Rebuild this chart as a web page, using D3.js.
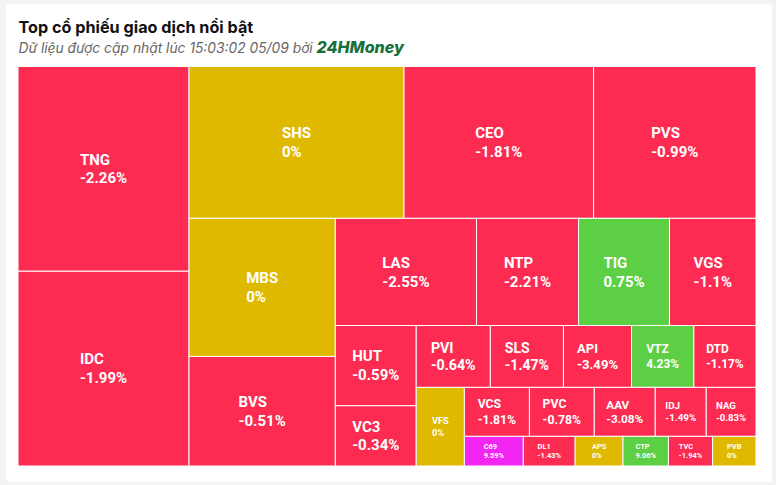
<!DOCTYPE html>
<html><head><meta charset="utf-8">
<script src="https://cdn.jsdelivr.net/npm/d3@7"></script>
<style>
html,body{margin:0;padding:0;background:#f2f3f5;}
svg{display:block;}
</style></head><body>
<svg id="chart" width="776" height="485"></svg>
<script>
// ---- data ----
const symbols = ["TNG","IDC","SHS","CEO","PVS","MBS","BVS","LAS","NTP","TIG","VGS","HUT","VC3","PVI","SLS","API","VTZ","DTD","VFS","VCS","PVC","AAV","IDJ","NAG","C69","DL1","APS","CTP","TVC","PVB"];
const values  = [350.6,333.5,326.8,288.2,246.9,202.3,160.5,151.5,109.5,97.6,92.8,65.0,48.8,45.9,45.3,42.2,38.6,38.5,37.9,31.9,31.8,29.9,25.0,24.4,17.5,15.4,14.2,13.5,13.1,12.9];
const changes = [-2.26,-1.99,0,-1.81,-0.99,0,-0.51,-2.55,-2.21,0.75,-1.1,-0.59,-0.34,-0.64,-1.47,-3.49,4.23,-1.17,0,-1.81,-0.78,-3.08,-1.49,-0.83,9.59,-1.43,0,9.06,-1.94,0];
const ceilingSymbols = ["C69"];
const titleText = "Top cổ phiếu giao dịch nổi bật";
const subtitleText = "Dữ liệu được cập nhật lúc 15:03:02 05/09 bởi";
const brandText = "24HMoney";

const colors = {down:"#fd2b51", ref:"#dfb900", up:"#5ccf45", ceil:"#f325f3"};
const statusOf = (s, c) => ceilingSymbols.includes(s) ? "ceil" : c > 0 ? "up" : c < 0 ? "down" : "ref";

const svg = d3.select("#chart");
// card
svg.append("rect").attr("x",6).attr("y",4).attr("width",766).attr("height",478)
  .attr("rx",4).attr("fill","#fff");

// title
svg.append("text").attr("x",18.5).attr("y",33)
  .attr("font-family","Inter, 'Noto Sans', sans-serif").attr("font-weight",700)
  .attr("font-size",16.2).attr("fill","#111").text(titleText);
const sub = svg.append("text").attr("x",18.5).attr("y",53)
  .attr("font-family","Inter, 'Noto Sans', sans-serif").attr("font-style","italic")
  .attr("font-size",13.8).attr("fill","#666");
sub.append("tspan").text(subtitleText + " ");
sub.append("tspan").attr("font-weight",800).attr("font-size",16).attr("fill","#17703b").text(brandText);

// ---- treemap ----
const X0 = 18, Y0 = 66.5, X1 = 756, Y1 = 466;
const data = symbols.map((s,i) => ({symbol:s, value:values[i], change:changes[i]}));

// alternating squarified tiling (columns and rows take turns)
function tileAlternate(parent, x0, y0, x1, y1) {
  const kids = parent.children;
  const k = (x1-x0)*(y1-y0)/parent.value;
  let rx = x0, ry = y0, rw = x1-x0, rh = y1-y0, dir = 0;
  let group = [], sum = 0;
  const ar = (a,b) => Math.max(a/b, b/a);
  function place() {
    if (dir === 0) {
      const w = sum / rh; let y = ry;
      group.forEach(n => { const h = n.value*k / w; n.x0 = rx; n.x1 = rx + w; n.y0 = y; n.y1 = y + h; y += h; });
      rx += w; rw -= w;
    } else {
      const h = sum / rw; let x = rx;
      group.forEach(n => { const w = n.value*k / h; n.y0 = ry; n.y1 = ry + h; n.x0 = x; n.x1 = x + w; x += w; });
      ry += h; rh -= h;
    }
    dir = 1 - dir; group = []; sum = 0;
  }
  kids.forEach(n => {
    const a = n.value*k;
    if (group.length) {
      const side = dir === 0 ? rh : rw;
      const p = group[group.length-1].value*k;
      const tOld = sum / side, tNew = (sum + a) / side;
      if (ar(tNew, p/tNew) > ar(tOld, p/tOld)) place();
    }
    group.push(n); sum += a;
  });
  if (group.length) place();
}

const root = d3.hierarchy({children:data}).sum(d => d.value || 0);
d3.treemap().tile(tileAlternate).size([X1-X0, Y1-Y0]).round(false)(root);

const g = svg.append("g").attr("transform",`translate(${X0},${Y0})`);
const cell = g.selectAll("g.cell").data(root.leaves()).join("g").attr("class","cell");
cell.append("rect")
  .attr("x",d=>d.x0).attr("y",d=>d.y0)
  .attr("width",d=>d.x1-d.x0).attr("height",d=>d.y1-d.y0)
  .attr("fill",d=>colors[statusOf(d.data.symbol,d.data.change)])
  .attr("stroke","#fff").attr("stroke-width",1);

cell.each(function(d){
  const w = d.x1-d.x0, h = d.y1-d.y0;
  const fs = Math.min(15, w/5.2, h/4);
  const lh = fs*1.25;
  const cx = (d.x0+d.x1)/2, cy = (d.y0+d.y1)/2;
  const sel = d3.select(this);
  const lines = [d.data.symbol, d.data.change + "%"];
  const texts = lines.map((t,i) => sel.append("text")
    .attr("font-family","Roboto, 'Noto Sans', sans-serif").attr("font-weight",700)
    .attr("font-size",fs).attr("fill","#fff")
    .attr("y", cy + (i===0 ? -lh/2 : lh/2)).attr("dy","0.35em").text(t));
  const bw = d3.max(texts, t => t.node().getComputedTextLength());
  texts.forEach(t => t.attr("x", cx - bw/2));
});
</script>
</body></html>
